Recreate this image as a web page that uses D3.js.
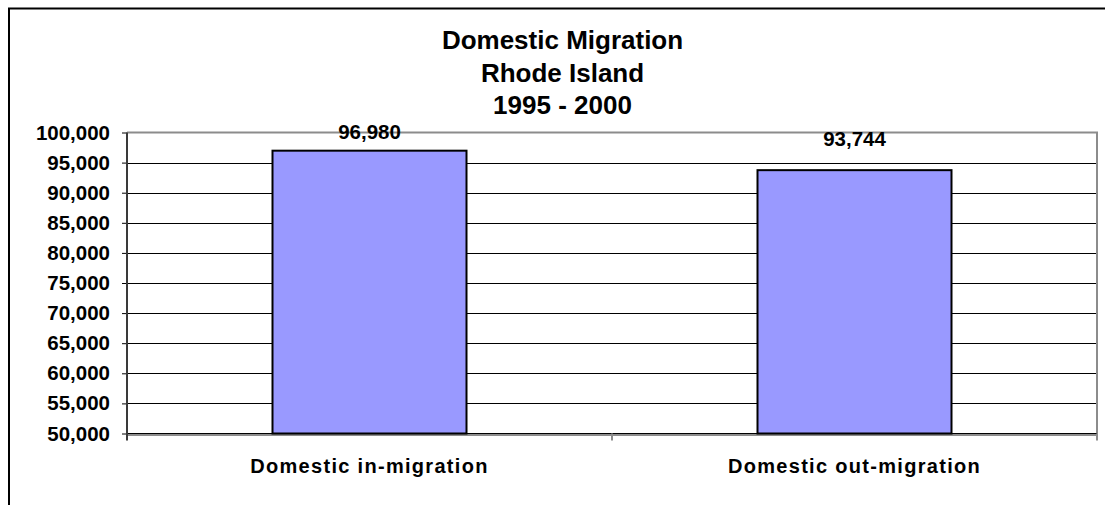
<!DOCTYPE html>
<html>
<head>
<meta charset="utf-8">
<script src="https://cdn.jsdelivr.net/npm/d3@7"></script>
<style>
  html, body { margin: 0; padding: 0; background: #ffffff; }
  svg { display: block; }
  text { font-family: "Liberation Sans", Arial, sans-serif; font-weight: bold; fill: #000; }
</style>
</head>
<body>
<svg id="chart" width="1105" height="505"></svg>
<script>
// Chart data
const titleLines = ["Domestic Migration", "Rhode Island", "1995 - 2000"];
const categories = ["Domestic in-migration", "Domestic out-migration"];
const values = [96980, 93744];
const yTicks = [50000, 55000, 60000, 65000, 70000, 75000, 80000, 85000, 90000, 95000, 100000];

const W = 1105, H = 505;
const plot = { left: 127, right: 1097, top: 132.5, bottom: 433.5 };

const svg = d3.select("#chart");
const fmt = d3.format(",");

// Chart-area frame (extends past the window on right and bottom)
svg.append("rect")
  .attr("x", 9).attr("y", 8.5)
  .attr("width", W + 40).attr("height", H + 40)
  .attr("fill", "#fff")
  .attr("stroke", "#000").attr("stroke-width", 2);

// Title
svg.append("g").selectAll("text")
  .data(titleLines)
  .join("text")
  .attr("x", 562.5)
  .attr("y", (d, i) => 49 + i * 32.5)
  .attr("text-anchor", "middle")
  .attr("font-size", 26)
  .text(d => d);

// Scales
const x = d3.scaleBand()
  .domain(categories)
  .range([plot.left, plot.right])
  .paddingInner(0.6)
  .paddingOuter(0.3);

const y = d3.scaleLinear()
  .domain([d3.min(yTicks), d3.max(yTicks)])
  .range([plot.bottom, plot.top]);

// Gridlines
svg.append("g").selectAll("line")
  .data(yTicks.slice(0, -1))
  .join("line")
  .attr("x1", plot.left).attr("x2", plot.right)
  .attr("y1", d => Math.round(y(d)) + 0.5).attr("y2", d => Math.round(y(d)) + 0.5)
  .attr("stroke", "#000").attr("stroke-width", 1);

// Plot-area border (top and right), grey
svg.append("path")
  .attr("d", `M${plot.left},${plot.top} H${plot.right} V${plot.bottom + 1.5} H${plot.left}`)
  .attr("fill", "none")
  .attr("stroke", "#8c8c8c").attr("stroke-width", 2);

// Bars
svg.append("g").selectAll("rect")
  .data(values)
  .join("rect")
  .attr("x", (d, i) => x(categories[i]))
  .attr("y", d => y(d))
  .attr("width", x.bandwidth())
  .attr("height", d => y(d3.min(yTicks)) - y(d))
  .attr("fill", "#9999ff")
  .attr("stroke", "#000").attr("stroke-width", 2);

// Redraw bottom gridline over bar bases
svg.append("line")
  .attr("x1", plot.left).attr("x2", plot.right)
  .attr("y1", plot.bottom).attr("y2", plot.bottom)
  .attr("stroke", "#000").attr("stroke-width", 1);

// Y axis
const yAxis = d3.axisLeft(y)
  .tickValues(yTicks)
  .tickFormat(fmt)
  .tickSize(5)
  .tickPadding(12);

const yg = svg.append("g")
  .attr("transform", `translate(${plot.left},0)`)
  .call(yAxis);
yg.select(".domain").remove();
yg.selectAll(".tick line").attr("stroke", "#000");
yg.selectAll(".tick text")
  .attr("font-family", "Liberation Sans, Arial, sans-serif")
  .attr("font-weight", "bold")
  .attr("font-size", 20.5)
  .attr("fill", "#000");

// Y axis line
svg.append("line")
  .attr("x1", plot.left).attr("x2", plot.left)
  .attr("y1", plot.top).attr("y2", plot.bottom + 7)
  .attr("stroke", "#3a3a3a").attr("stroke-width", 2);

// X axis ticks at category boundaries
const boundaries = [plot.left + x.step() * 0, plot.left + x.step(), plot.right];
svg.append("g").selectAll("line")
  .data(boundaries.slice(1))
  .join("line")
  .attr("x1", d => d).attr("x2", d => d)
  .attr("y1", plot.bottom).attr("y2", plot.bottom + 7)
  .attr("stroke", "#8c8c8c").attr("stroke-width", 2);

// Category labels
svg.append("g").selectAll("text")
  .data(categories)
  .join("text")
  .attr("x", d => x(d) + x.bandwidth() / 2)
  .attr("y", 473)
  .attr("text-anchor", "middle")
  .attr("font-size", 20)
  .attr("letter-spacing", 1.3)
  .text(d => d);

// Value labels
svg.append("g").selectAll("text")
  .data(values)
  .join("text")
  .attr("x", (d, i) => x(categories[i]) + x.bandwidth() / 2)
  .attr("y", d => Math.max(y(d) - 24, plot.top + 6))
  .attr("text-anchor", "middle")
  .attr("font-size", 20.5)
  .text(d => fmt(d));
</script>
</body>
</html>
